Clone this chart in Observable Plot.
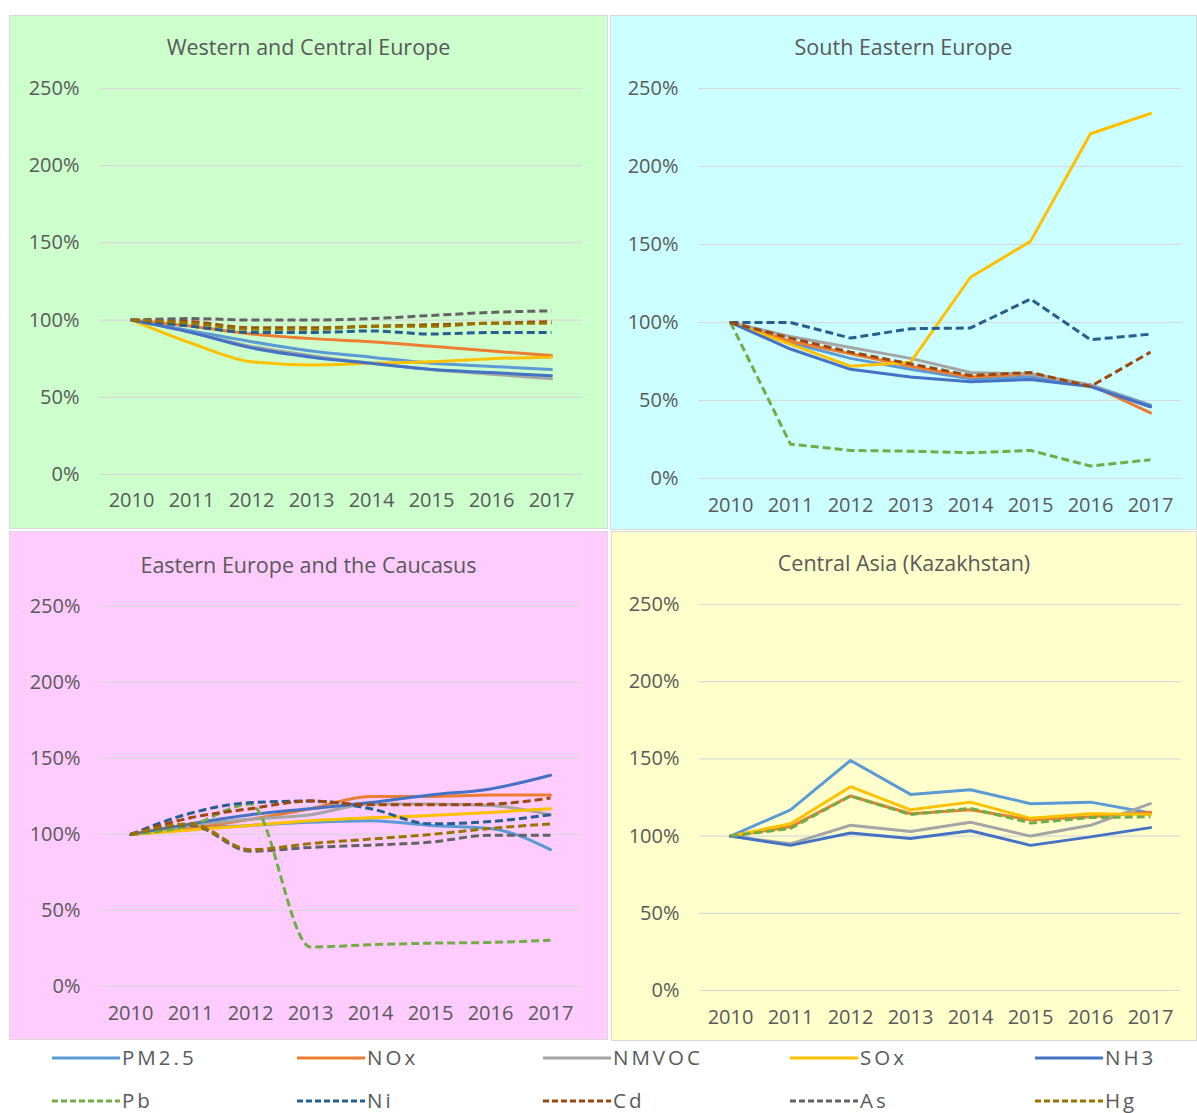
<!DOCTYPE html>
<html>
<head>
<meta charset="utf-8">
<script src="https://cdn.jsdelivr.net/npm/d3@7"></script>
<script src="https://cdn.jsdelivr.net/npm/@observablehq/plot@0.6"></script>
<style>
  html, body { margin: 0; padding: 0; background: #ffffff; }
  body { width: 1197px; height: 1113px; position: relative; overflow: hidden; font-family: "Open Sans", sans-serif; }
  .panel { position: absolute; box-sizing: border-box; border: 1px solid #d9d9d9; }
  .panel svg { position: absolute; left: 0; top: 0; }
  .title { position: absolute; left: 0; right: 0; text-align: center; font-size: 21.5px; color: #595959; white-space: nowrap; }
  #legend { position: absolute; left: 0; top: 1040px; }
</style>
</head>
<body>
<script>
// ---------- data ----------
const years = [2010, 2011, 2012, 2013, 2014, 2015, 2016, 2017];
const pollutants = ["PM2.5", "NOx", "NMVOC", "SOx", "NH3", "Pb", "Ni", "Cd", "As", "Hg"];
const colors = ["#5B9BD5", "#ED7D31", "#A5A5A5", "#FFC000", "#4472C4", "#70AD47", "#255E91", "#9E480E", "#636363", "#997300"];
const dashed = [false, false, false, false, false, true, true, true, true, true];
const yTicks = [0, 50, 100, 150, 200, 250];

// values in % of 2010, rows follow `pollutants` order (null = not shown)
const westernCentral = [
  [100, 93, 86, 80, 76, 72, 70, 68],
  [100, 96, 91, 88, 86, 83, 80, 77],
  [100, 92, 83, 77, 72, 68, 65, 62],
  [100, 85, 73, 71, 72, 73, 75, 76],
  [100, 92, 82, 76, 72, 68, 66, 64],
  null,
  [100, 96, 92, 92, 93, 91, 92, 92],
  [100, 99, 95, 95, 96, 97, 98, 99],
  [100, 101, 100, 100, 101, 103, 105, 106],
  [100, 98, 94, 94, 96, 96, 98, 98]
];
const southEastern = [
  [100, 87, 77, 70, 64, 65, 60, 47],
  [100, 88, 80, 72, 65, 67, 60, 42],
  [100, 91, 84, 77, 68, 67, 60, 46],
  [100, 86, 72, 74.5, 129, 152, 221, 234],
  [100, 83, 70, 65, 62, 63.5, 59, 46],
  [100, 22, 18, 17.5, 16.5, 18, 8, 12],
  [100, 100, 90, 96, 96.5, 115, 89, 92.5],
  [100, 90, 81, 73.5, 66, 68, 59, 81],
  null,
  null
];
const easternCaucasus = [
  [100, 104, 106, 108, 109, 106, 104, 90],
  [100, 104, 110, 117, 125, 125, 126, 126],
  [100, 106, 110, 113, 120, 120, 119, 113],
  [100, 103, 106, 109, 111, 112.5, 114.5, 117],
  [100, 107, 113, 117, 121, 126, 130, 139],
  [100, 106, 120, 26, 27.5, 28.5, 29, 30.5],
  [100, 114, 121, 122, 117, 107, 108.5, 113],
  [100, 111, 117, 122, 119.5, 119.5, 120, 124],
  [100, 106, 89, 91.5, 93, 95, 99.5, 99.5],
  [100, 107, 90, 94, 97, 100, 104, 107]
];
const centralAsia = [
  [100, 117, 149, 127, 130, 121, 122, 115],
  [100, 106, 126, 114.5, 117, 110.5, 112.5, 115.5],
  [100, 95, 107, 103, 109, 100, 107, 121],
  [100, 108, 132, 117, 122, 111.5, 114.5, 114],
  [100, 94, 102, 98.5, 103.5, 94, 99.5, 105.5],
  [100, 105, 126, 114, 118, 108.5, 112, 112.5],
  null,
  null,
  null,
  null
];

// ---------- panels ----------
const panels = [
  { title: "Western and Central Europe", values: westernCentral, bg: "#CCFFCC", curve: "monotone-x",
    left: 9, top: 15, width: 599, height: 514, titleTop: 16,
    m: { left: 89, right: 25, top: 73, bottom: 55 }, xPad: 18 },
  { title: "South Eastern Europe", values: southEastern, bg: "#CCFFFF", curve: "linear",
    left: 610, top: 15, width: 587, height: 515, titleTop: 16,
    m: { left: 87, right: 15, top: 73, bottom: 52 }, xPad: 19 },
  { title: "Eastern Europe and the Caucasus", values: easternCaucasus, bg: "#FFCCFF", curve: "monotone-x",
    left: 9, top: 531, width: 599, height: 509, titleTop: 18,
    m: { left: 90, right: 27, top: 75, bottom: 54 }, xPad: 19 },
  { title: "Central Asia (Kazakhstan)", values: centralAsia, bg: "#FFFFCC", curve: "linear",
    left: 611, top: 531, width: 586, height: 510, titleTop: 16,
    m: { left: 87, right: 15, top: 73, bottom: 51 }, xPad: 19 }
];

for (const p of panels) {
  const rows = [];
  p.values.forEach((vals, i) => {
    if (!vals) return;
    vals.forEach((v, j) => rows.push({ pollutant: pollutants[i], idx: i, year: years[j], value: v }));
  });
  const div = document.createElement("div");
  div.className = "panel";
  Object.assign(div.style, { left: p.left + "px", top: p.top + "px", width: p.width + "px", height: p.height + "px", background: p.bg });
  const marks = [Plot.gridY(yTicks, { stroke: "#d9d9d9", strokeOpacity: 1, strokeWidth: 1.2 })];
  pollutants.forEach((name, i) => {
    const data = rows.filter(d => d.idx === i);
    if (!data.length) return;
    marks.push(Plot.line(data, {
      x: "year", y: "value", curve: p.curve,
      stroke: colors[i], strokeWidth: 3,
      strokeDasharray: dashed[i] ? "8,4" : null,
      strokeLinejoin: "round", strokeLinecap: dashed[i] ? "butt" : "round"
    }));
  });
  const chart = Plot.plot({
    width: p.width - 2, height: p.height - 2,
    marginLeft: p.m.left, marginRight: p.m.right, marginTop: p.m.top - 1, marginBottom: p.m.bottom - 1,
    style: { background: "transparent", fontFamily: "'Open Sans', sans-serif", fontSize: "20px", color: "#595959", overflow: "visible" },
    x: { type: "point", domain: years, padding: 0.5, label: null, tickSize: 0, tickPadding: p.xPad, tickFormat: d => String(d) },
    y: { domain: [0, 250], ticks: yTicks, tickFormat: d => d + "%", label: null, tickSize: 0, tickPadding: 20 },
    marks
  });
  div.appendChild(chart);
  const t = document.createElement("div");
  t.className = "title";
  t.style.top = p.titleTop + "px";
  t.textContent = p.title;
  div.appendChild(t);
  document.body.appendChild(div);
}

// ---------- legend ----------
const legendCols = [52, 297, 543, 790, 1035];
const legendRows = [18, 61];
const lg = d3.select("body").append("svg").attr("id", "legend").attr("width", 1197).attr("height", 73);
pollutants.forEach((name, i) => {
  const x = legendCols[i % 5], y = legendRows[Math.floor(i / 5)];
  lg.append("line").attr("x1", x).attr("x2", x + 68).attr("y1", y).attr("y2", y)
    .attr("stroke", colors[i]).attr("stroke-width", 3)
    .attr("stroke-dasharray", dashed[i] ? "6,3" : null);
  lg.append("text").attr("x", x + 70).attr("y", y).attr("dy", "0.35em")
    .attr("font-family", "'Open Sans', sans-serif").attr("font-size", 20.5).attr("fill", "#595959")
    .attr("letter-spacing", "3px")
    .text(name);
});
</script>
</body>
</html>
